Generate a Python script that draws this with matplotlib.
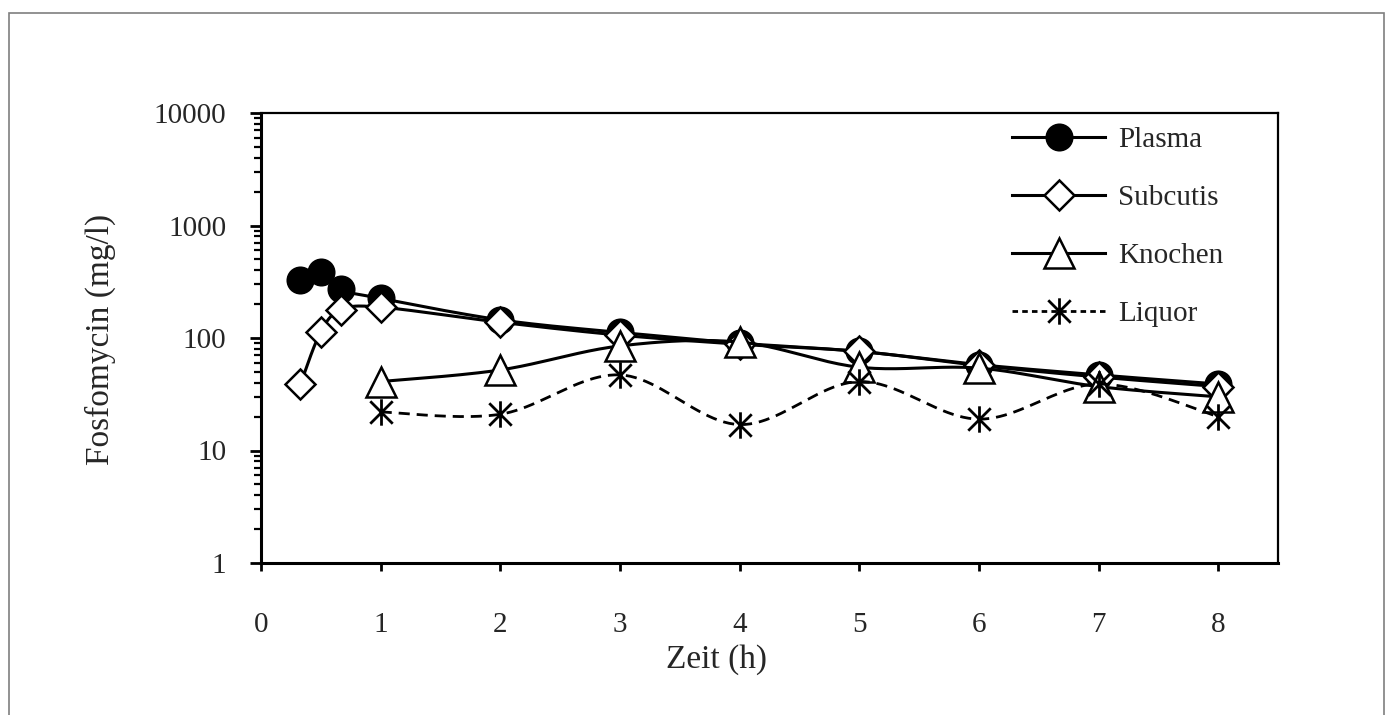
import matplotlib
matplotlib.use("Agg")
import matplotlib.pyplot as plt
import numpy as np
from matplotlib.path import Path
from matplotlib.patches import Rectangle
from matplotlib.ticker import LogLocator, NullFormatter, FixedLocator

plt.rcParams['font.family'] = ['Liberation Serif', 'DejaVu Serif']

# ---- data ----
t_plasma = [0.33, 0.5, 0.67, 1, 2, 3, 4, 5, 6, 7, 8]
plasma = [330, 390, 270, 225, 145, 112, 90, 76, 58, 47, 39]

t_subcutis = [0.33, 0.5, 0.67, 1, 2, 3, 4, 5, 6, 7, 8]
subcutis = [39, 114, 178, 188, 138, 106, 88, 76, 57, 45, 37]

t_knochen = [1, 2, 3, 4, 5, 6, 7, 8]
knochen = [41, 52, 85, 92, 55, 54, 37, 30]

t_liquor = [1, 2, 3, 4, 5, 6, 7, 8]
liquor = [22, 21, 47, 17, 41, 19, 39, 20]

x_ticks = [0, 1, 2, 3, 4, 5, 6, 7, 8]
y_ticks = [1, 10, 100, 1000, 10000]


def smooth(x, y, n=24):
    # Excel-like smoothed line: bezier through points, worked in (x, log y)
    x = np.asarray(x, float)
    ly = np.log10(np.asarray(y, float))
    P = np.column_stack([x, ly])
    out = [P[0]]
    for i in range(len(P) - 1):
        p0 = P[i - 1] if i > 0 else P[i]
        p1 = P[i]
        p2 = P[i + 1]
        p3 = P[i + 2] if i + 2 < len(P) else P[i + 1]
        c1 = p1 + (p2 - p0) / 6.0
        c2 = p2 - (p3 - p1) / 6.0
        s = np.linspace(0, 1, n)[1:, None]
        seg = ((1 - s) ** 3) * p1 + 3 * ((1 - s) ** 2) * s * c1 + 3 * (1 - s) * s ** 2 * c2 + s ** 3 * p2
        out.extend(seg)
    out = np.array(out)
    return out[:, 0], 10 ** out[:, 1]


# asterisk marker: vertical bar plus an X
star = Path([(0, -1), (0, 1), (-0.85, -0.85), (0.85, 0.85), (-0.85, 0.85), (0.85, -0.85)],
            [Path.MOVETO, Path.LINETO, Path.MOVETO, Path.LINETO, Path.MOVETO, Path.LINETO])

fig = plt.figure(figsize=(13.89, 7.15), dpi=100)
ax = fig.add_axes([261 / 1389, 1 - 563 / 715, (1278 - 261) / 1389, (563 - 113) / 715])

# outer frame
fig.patches.append(Rectangle((9 / 1389, -0.05), (1384 - 9) / 1389, 1.05 - 13 / 715,
                             transform=fig.transFigure, fill=False, edgecolor='#7f7f7f', lw=1.2))

lw = 2.2
series = [
    (t_plasma, plasma, 'Plasma', dict(marker='o', ms=19, mfc='black', mec='black', mew=1.2), '-'),
    (t_subcutis, subcutis, 'Subcutis', dict(marker='D', ms=15, mfc='white', mec='black', mew=1.8), '-'),
    (t_knochen, knochen, 'Knochen', dict(marker='^', ms=21, mfc='white', mec='black', mew=1.8), '-'),
    (t_liquor, liquor, 'Liquor', dict(marker=star, ms=19, mfc='none', mec='black', mew=2.0), (0, (4, 2.5))),
]

handles = []
for i, (tx, vy, name, mk, ls) in enumerate(series):
    sx, sy = smooth(tx, vy)
    ax.plot(sx, sy, color='black', lw=lw if ls == '-' else 2.0, ls=ls, zorder=2 + 2 * i)
    ax.plot(tx, vy, ls='none', zorder=3 + 2 * i, **mk)
    h, = ax.plot([], [], color='black', lw=lw if ls == '-' else 2.0, ls=ls if ls == '-' else (0, (2, 1.5)),
                 label=name, **mk)
    handles.append(h)

ax.set_yscale('log')
ax.set_ylim(1, 10000)
ax.set_xlim(0, 8.5)
ax.xaxis.set_major_locator(FixedLocator(x_ticks))
ax.set_xticklabels([str(v) for v in x_ticks])
ax.yaxis.set_major_locator(FixedLocator(y_ticks))
ax.set_yticklabels([str(v) for v in y_ticks])
ax.yaxis.set_minor_locator(LogLocator(base=10, subs=np.arange(2, 10)))
ax.yaxis.set_minor_formatter(NullFormatter())

for side in ['left', 'bottom']:
    ax.spines[side].set_linewidth(2.2)
for side in ['top', 'right']:
    ax.spines[side].set_linewidth(1.6)

ax.tick_params(axis='y', which='major', direction='out', length=8, width=2, pad=17,
               labelsize=21, labelcolor='#262626')
ax.tick_params(axis='y', which='minor', direction='out', length=5, width=1.6)
ax.tick_params(axis='x', which='major', direction='out', length=6, width=2, pad=29,
               labelsize=21, labelcolor='#262626')

fig.text(100 / 1389, 1 - 339 / 715, 'Fosfomycin (mg/l)', rotation=90, ha='center', va='center',
         fontsize=24, color='#262626')
fig.text(716 / 1389, 1 - 660 / 715, 'Zeit (h)', ha='center', va='center', fontsize=24, color='#262626')

leg = ax.legend(handles=handles, loc='upper left', bbox_to_anchor=(1012 / 1389, 1 - 127 / 715),
                bbox_transform=fig.transFigure, frameon=False, fontsize=21, handlelength=3.2,
                handletextpad=0.45, labelspacing=1.08, borderpad=0, borderaxespad=0)
for txt in leg.get_texts():
    txt.set_color('#262626')

fig.savefig('out.png', dpi=100)
